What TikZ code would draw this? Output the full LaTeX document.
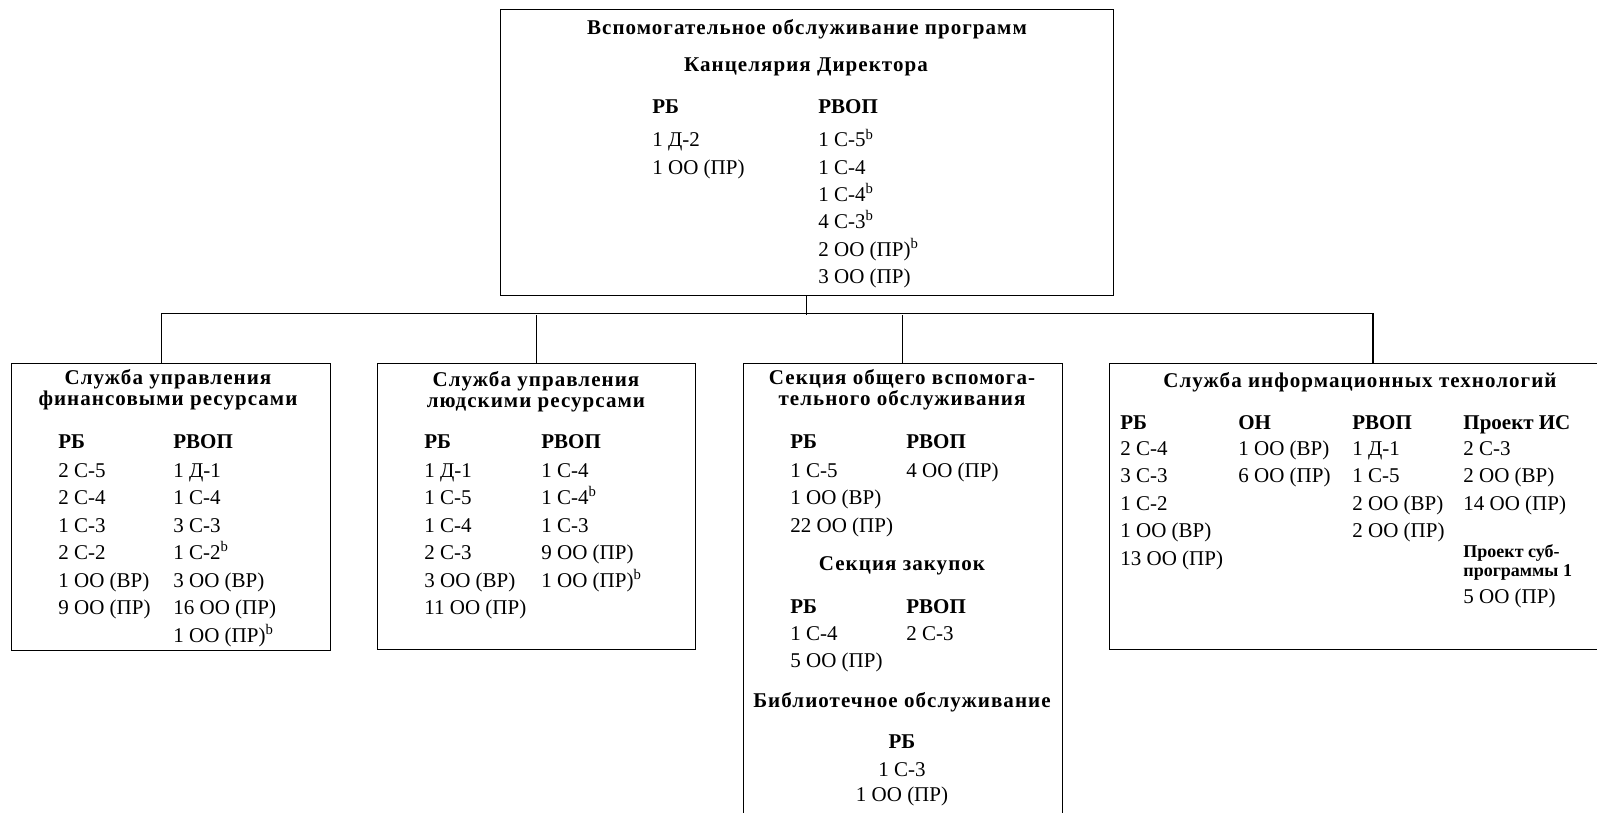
\documentclass[tikz,border=0pt]{standalone}
\usepackage{fontspec}
\setmainfont{Liberation Serif}
\newfontfamily\spacedfont[LetterSpace=5]{Liberation Serif}
\newcommand{\fnb}{\textsuperscript{b}}
\begin{document}
\begin{tikzpicture}
        [x=0.5pt,y=-0.5pt,
         unit/.style={draw,line width=0.5pt,inner sep=0pt},
         head/.style={font=\spacedfont\bfseries\fontsize{10.5}{10.5}\selectfont,inner sep=0pt},
         colhead/.style={font=\bfseries\fontsize{10.5}{13}\selectfont,anchor=base west,inner sep=0pt},
         entry/.style={font=\fontsize{10.5}{13}\selectfont,anchor=base west,inner sep=0pt}]
        \useasboundingbox (0,0) rectangle (1597,813);
        \clip (0,0) rectangle (1597,813);

        \node[unit,minimum width=306.5pt,minimum height=142.5pt] (dir) at (806.5,152.5) {};
        \node[unit,minimum width=159.5pt,minimum height=143.5pt] (fin) at (170.5,506.5) {};
        \node[unit,minimum width=159pt,minimum height=143pt] (hr) at (536,506) {};
        \node[unit,minimum width=159.5pt,minimum height=235pt] (gen) at (902.5,598) {};
        \node[unit,minimum width=264pt,minimum height=143pt] (it) at (1373,506) {};

        \draw[line width=0.6pt] (dir.south) -- ++(0,19) coordinate (bus);
        \draw[line width=0.6pt] ([xshift=-4.5pt]fin.north) -- ++(0,-49) -| (it.north);
        \draw[line width=0.5pt] (hr.north) -- (hr.north |- bus);
        \draw[line width=0.5pt] (gen.north) -- (gen.north |- bus);

        \node[head,anchor=base] (dir-t) at (807,35) {Вспомогательное обслуживание программ};
        \node[head,anchor=base] (dir-o) at (806,72) {Канцелярия Директора};
        \node[colhead] (dir-rb) at (652,114) {РБ};
        \node[colhead] (dir-rvop) at (818,114) {РВОП};
        \foreach \t [count=\i from 0] in {1 Д-2,1 ОО (ПР)}
        {\node[entry] (dir-rb-\i) at (652,147+27.3*\i) {\t};}
        \foreach \t [count=\i from 0] in {1 С-5\fnb,1 С-4,1 С-4\fnb,4 С-3\fnb,2 ОО (ПР)\fnb,3 ОО (ПР)}
        {\node[entry] (dir-rvop-\i) at (818,147+27.3*\i) {\t};}

        \node[head,align=center] (fin-t) at (168,390) {Служба управления\\финансовыми ресурсами};
        \node[colhead] (fin-rb) at (58,448) {РБ};
        \node[colhead] (fin-rvop) at (173,448) {РВОП};
        \foreach \t [count=\i from 0] in {2 С-5,2 С-4,1 С-3,2 С-2,1 ОО (ВР),9 ОО (ПР)}
        {\node[entry] (fin-rb-\i) at (58,477+27.5*\i) {\t};}
        \foreach \t [count=\i from 0] in {1 Д-1,1 С-4,3 С-3,1 С-2\fnb,3 ОО (ВР),16 ОО (ПР),1 ОО (ПР)\fnb}
        {\node[entry] (fin-rvop-\i) at (173,477+27.5*\i) {\t};}

        \node[head,align=center] (hr-t) at (536,391.5) {Служба управления\\людскими ресурсами};
        \node[colhead] (hr-rb) at (424,448) {РБ};
        \node[colhead] (hr-rvop) at (541,448) {РВОП};
        \foreach \t [count=\i from 0] in {1 Д-1,1 С-5,1 С-4,2 С-3,3 ОО (ВР),11 ОО (ПР)}
        {\node[entry] (hr-rb-\i) at (424,477+27.5*\i) {\t};}
        \foreach \t [count=\i from 0] in {1 С-4,1 С-4\fnb,1 С-3,9 ОО (ПР),1 ОО (ПР)\fnb}
        {\node[entry] (hr-rvop-\i) at (541,477+27.5*\i) {\t};}

        \node[head,align=center] (gen-t) at (902,390) {Секция общего вспомога-\\тельного обслуживания};
        \node[colhead] (gen-rb) at (790,448) {РБ};
        \node[colhead] (gen-rvop) at (906,448) {РВОП};
        \foreach \t [count=\i from 0] in {1 С-5,1 ОО (ВР),22 ОО (ПР)}
        {\node[entry] (gen-rb-\i) at (790,477+27.5*\i) {\t};}
        \node[entry] (gen-rvop-0) at (906,477) {4 ОО (ПР)};
        \node[head,anchor=base] (gen-zak) at (902,570) {Секция закупок};
        \node[colhead] (zak-rb) at (790,613) {РБ};
        \node[colhead] (zak-rvop) at (906,613) {РВОП};
        \foreach \t [count=\i from 0] in {1 С-4,5 ОО (ПР)}
        {\node[entry] (zak-rb-\i) at (790,640+27*\i) {\t};}
        \node[entry] (zak-rvop-0) at (906,640) {2 С-3};
        \node[head,anchor=base] (gen-lib) at (902,707) {Библиотечное обслуживание};
        \node[colhead,anchor=base] (lib-rb) at (902,748) {РБ};
        \node[entry,anchor=base] (lib-rb-0) at (902,776) {1 С-3};
        \node[entry,anchor=base] (lib-rb-1) at (902,801) {1 ОО (ПР)};

        \node[head,anchor=base] (it-t) at (1360,387) {Служба информационных технологий};
        \node[colhead] (it-rb) at (1120,429) {РБ};
        \node[colhead] (it-on) at (1238,429) {ОН};
        \node[colhead] (it-rvop) at (1352,429) {РВОП};
        \node[colhead] (it-is) at (1463,429) {Проект ИС};
        \foreach \t [count=\i from 0] in {2 С-4,3 С-3,1 С-2,1 ОО (ВР),13 ОО (ПР)}
        {\node[entry] (it-rb-\i) at (1120,455+27.5*\i) {\t};}
        \foreach \t [count=\i from 0] in {1 ОО (ВР),6 ОО (ПР)}
        {\node[entry] (it-on-\i) at (1238,455+27.5*\i) {\t};}
        \foreach \t [count=\i from 0] in {1 Д-1,1 С-5,2 ОО (ВР),2 ОО (ПР)}
        {\node[entry] (it-rvop-\i) at (1352,455+27.5*\i) {\t};}
        \foreach \t [count=\i from 0] in {2 С-3,2 ОО (ВР),14 ОО (ПР)}
        {\node[entry] (it-is-\i) at (1463,455+27.5*\i) {\t};}
        \node[font=\bfseries\fontsize{9}{9.5}\selectfont,align=left,anchor=west,inner sep=0pt] (it-sub) at (1463,562.5) {Проект суб-\\программы 1};
        \node[entry] (it-sub-0) at (1463,603) {5 ОО (ПР)};
\end{tikzpicture}
\end{document}
